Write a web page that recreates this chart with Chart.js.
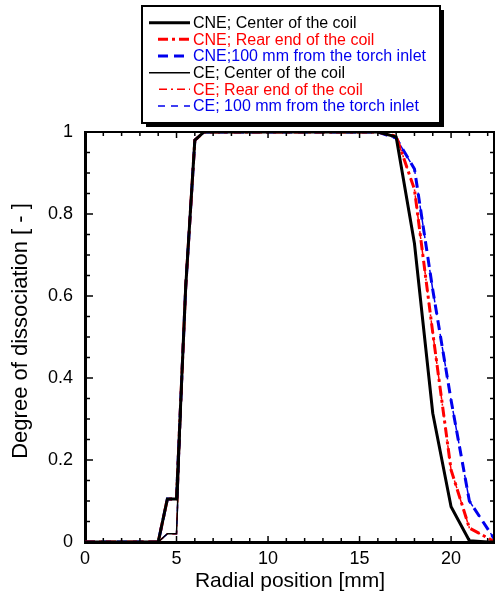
<!DOCTYPE html>
<html><head><meta charset="utf-8">
<script src="https://cdn.jsdelivr.net/npm/chart.js@4/dist/chart.umd.min.js"></script>
<style>html,body{margin:0;padding:0;background:#fff}#wrap{width:495px;height:595px;position:relative}</style>
</head><body><div id="wrap"><canvas id="c" width="495" height="595"></canvas></div>
<script>
// ---- data ----
const radialPositions = [0,1,2,3,4,4.5,5,5.5,6,6.5,7,8,9,10,11,12,13,14,15,16,17,18,19,20,21,22,22.4];
const cneCenter = [0,0,0,0,0,0.105,0.105,0.62,0.98,1,1,1,1,1,1,1,1,1,1,1,0.988,0.728,0.314,0.086,0.003,0,0];
const cneRear   = [0,0,0,0,0,0.105,0.105,0.62,0.98,1,1,1,1,1,1,1,1,1,1,1,0.99,0.86,0.51,0.176,0.034,0.01,0];
const cneInlet  = [0,0,0,0,0,0.105,0.105,0.62,0.98,1,1,1,1,1,1,1,1,1,1,1,0.985,0.91,0.615,0.346,0.10,0.032,0.005];
const ceCenter  = [0,0,0,0,0,0.02,0.02,0.64,0.98,1,1,1,1,1,1,1,1,1,1,1,0.988,0.728,0.314,0.086,0.003,0,0];
const ceRear    = [0,0,0,0,0,0.02,0.02,0.64,0.98,1,1,1,1,1,1,1,1,1,1,1,0.99,0.86,0.51,0.176,0.034,0.01,0];
const ceInlet   = [0,0,0,0,0,0.02,0.02,0.64,0.98,1,1,1,1,1,1,1,1,1,1,1,0.985,0.91,0.615,0.346,0.10,0.032,0.005];
const seriesLabels = ['CNE; Center of the coil','CNE; Rear end of the coil','CNE;100 mm from the torch inlet',
                      'CE; Center of the coil','CE; Rear end of the coil','CE; 100 mm from the torch inlet'];
const xTickValues = [0,5,10,15,20];
const yTickValues = [0,0.2,0.4,0.6,0.8,1];
const yTickLabels = ['0','0.2','0.4','0.6','0.8','1'];
const xTitle = 'Radial position [mm]';
const yTitle = 'Degree of dissociation [ - ]';

const F = "'Liberation Sans', Arial, Helvetica, sans-serif";
const RED = '#ff0000', BLUE = '#0000ee', BLACK = '#000000';

function pts(ys){ return radialPositions.map((x,i)=>({x:x,y:ys[i]})); }

const styles = [
  {data:cneCenter, color:BLACK, width:3, dash:[], order:1},
  {data:cneRear,   color:RED,   width:3, dash:[10,4,3,4], order:3},
  {data:cneInlet,  color:BLUE,  width:3, dash:[10,6], order:4},
  {data:ceCenter,  color:BLACK, width:1.5, dash:[], order:0},
  {data:ceRear,    color:RED,   width:1.5, dash:[8,4,2,4], order:5},
  {data:ceInlet,   color:BLUE,  width:1.5, dash:[7,6], order:6},
];

const datasets = styles.map((s,i)=>({
  label: seriesLabels[i], data: pts(s.data), borderColor: s.color, backgroundColor: s.color,
  borderWidth: s.width, borderDash: s.dash, pointRadius: 0, tension: 0, fill:false, order: s.order,
  borderJoinStyle:'miter'
}));

const framePlugin = {
  id:'frame',
  afterDraw(chart){
    const ctx = chart.ctx, a = chart.chartArea, xs = chart.scales.x, ys = chart.scales.y;
    ctx.save();
    ctx.strokeStyle = '#000';
    ctx.lineWidth = 2;
    ctx.beginPath(); ctx.moveTo(a.left, a.top); ctx.lineTo(a.right, a.top); ctx.stroke();
    ctx.beginPath(); ctx.moveTo(a.right-1, a.top); ctx.lineTo(a.right-1, a.bottom); ctx.stroke();
    ctx.lineWidth = 1.5;
    for (let v=1; v<=22; v++){
      const px = xs.getPixelForValue(v);
      const len = (v%5===0) ? 6 : 4;
      ctx.beginPath(); ctx.moveTo(px, a.bottom); ctx.lineTo(px, a.bottom-len); ctx.stroke();
      ctx.beginPath(); ctx.moveTo(px, a.top); ctx.lineTo(px, a.top+len); ctx.stroke();
    }
    for (let k=1; k<20; k++){
      const v = k*0.05, py = ys.getPixelForValue(v);
      const len = (k%4===0) ? 8 : 5;
      ctx.beginPath(); ctx.moveTo(a.left, py); ctx.lineTo(a.left+len, py); ctx.stroke();
      ctx.beginPath(); ctx.moveTo(a.right, py); ctx.lineTo(a.right-len, py); ctx.stroke();
    }
    ctx.fillStyle = '#000';
    ctx.textAlign = 'center'; ctx.textBaseline = 'middle';
    ctx.font = '21px ' + F;
    ctx.fillText(xTitle, 290, 581);
    ctx.save(); ctx.translate(21, 331); ctx.rotate(-Math.PI/2);
    ctx.font = '22px ' + F;
    ctx.fillText(yTitle, 0, 0);
    ctx.restore();
    const bx=142, by=6, bw=298, bh=117;
    ctx.fillStyle = '#000';
    ctx.fillRect(bx+4, by+4, bw, bh);
    ctx.fillStyle = '#fff';
    ctx.fillRect(bx, by, bw, bh);
    ctx.lineWidth = 2; ctx.strokeStyle = '#000';
    ctx.strokeRect(bx, by, bw, bh);
    ctx.font = '16px ' + F; ctx.textAlign='left'; ctx.textBaseline='middle';
    const rows = [22.7,39.3,56,72.7,89.3,106];
    const starts = [149,158,158,149,159,158];
    styles.forEach((s,i)=>{
      const y = rows[i];
      ctx.strokeStyle = s.color; ctx.lineWidth = s.width; ctx.setLineDash(s.dash);
      ctx.beginPath(); ctx.moveTo(starts[i], y); ctx.lineTo(190, y); ctx.stroke();
      ctx.setLineDash([]);
      ctx.fillStyle = s.color;
      ctx.fillText(seriesLabels[i], 193, y+1);
    });
    ctx.restore();
  }
};

new Chart(document.getElementById('c'), {
  type:'line',
  data:{datasets:datasets},
  options:{
    responsive:false, animation:false, devicePixelRatio:1,
    layout:{padding:{top:132,right:0,left:0,bottom:0}},
    plugins:{legend:{display:false}, tooltip:{enabled:false}},
    scales:{
      x:{type:'linear', min:0, max:22.4,
        afterFit(s){ s.height = 53; },
        afterBuildTicks(s){ s.ticks = xTickValues.map(v=>({value:v})); },
        grid:{display:false, drawTicks:false},
        border:{display:true, width:3, color:'#000'},
        ticks:{font:{size:18, family:F}, color:'#000', padding:6, maxRotation:0, autoSkip:false,
          callback:(v)=>String(v)}
      },
      y:{type:'linear', min:0, max:1,
        afterFit(s){ s.width = 85; },
        afterBuildTicks(s){ s.ticks = yTickValues.map(v=>({value:v})); },
        grid:{display:false, drawTicks:false},
        border:{display:true, width:3, color:'#000'},
        ticks:{font:{size:18, family:F}, color:'#000', padding:12, autoSkip:false,
          callback:(v,i)=>yTickLabels[i]}
      }
    }
  },
  plugins:[framePlugin]
});
</script>
</body></html>
